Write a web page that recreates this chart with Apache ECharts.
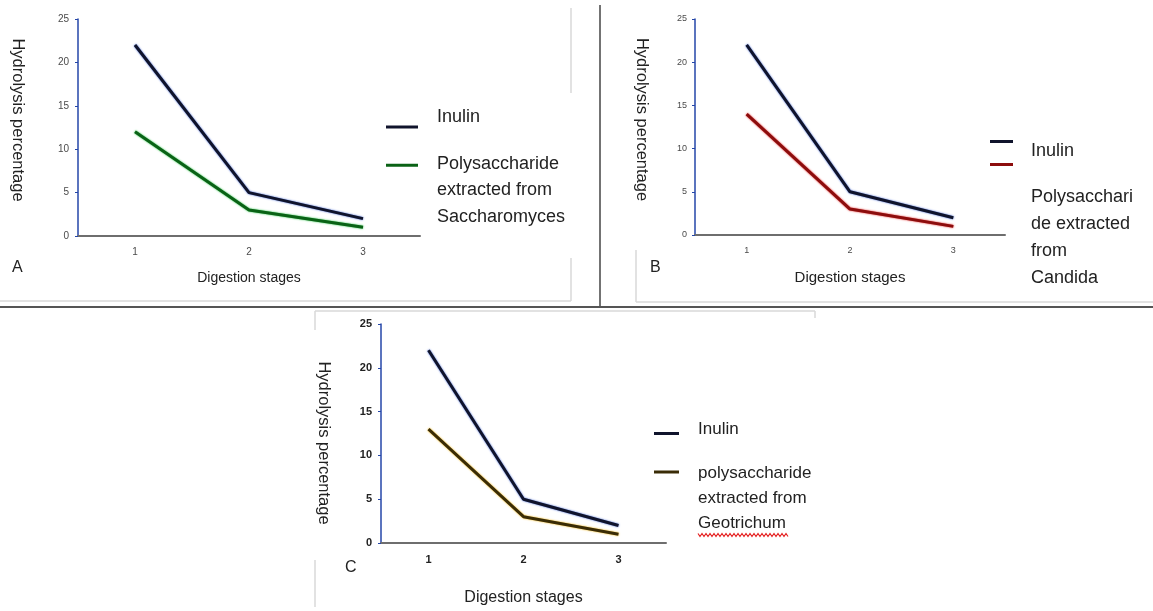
<!DOCTYPE html>
<html>
<head>
<meta charset="utf-8">
<script src="https://cdn.jsdelivr.net/npm/echarts@6/dist/echarts.min.js"></script>
<style>
  html, body { margin: 0; padding: 0; background: #fff; }
  #chart { width: 1153px; height: 611px; }
</style>
</head>
<body>
<div id="chart"></div>
<script>
// digestion stages and hydrolysis percentages
const stages = ['1', '2', '3']
const yTicks = [0, 5, 10, 15, 20, 25]
const inulin = [22, 5, 2]
const polySaccharomyces = [12, 3, 1]
const polyCandida = [14, 3, 1]
const polyGeotrichum = [13, 3, 1]

const nameA = 'Polysaccharide\nextracted from\nSaccharomyces'
const nameB = 'Polysacchari\nde extracted\nfrom\nCandida'
const nameC = 'polysaccharide\nextracted from\nGeotrichum'

const FONT = '"Liberation Sans", Arial, sans-serif'
const inulinColor = '#10142c'

let panels = [
  { grid: { left: 78, top: 19, width: 342, height: 217 }, tick: { size: 10, bold: false, color: '#4a4a4a', margin: 9 },
    xName: 14, xGap: 35, yGap: 52, yPad: [0, 15, 0, 0] },
  { grid: { left: 695, top: 19, width: 310, height: 216 }, tick: { size: 9, bold: false, color: '#4a4a4a', margin: 8 },
    xName: 15, xGap: 35, yGap: 45, yPad: [0, 15, 0, 0] },
  { grid: { left: 381, top: 324, width: 285, height: 219 }, tick: { size: 11, bold: true, color: '#222', margin: 9 },
    xName: 16, xGap: 47, yGap: 49, yPad: [0, 0, 0, 19] }
]

let grids = panels.map(p => p.grid)

let xAxes = panels.map((p, i) => ({
  type: 'category',
  gridIndex: i,
  data: stages,
  boundaryGap: true,
  name: 'Digestion stages',
  nameLocation: 'middle',
  nameGap: p.xGap,
  nameTextStyle: { fontFamily: FONT, fontSize: p.xName, color: '#222' },
  axisLine: { lineStyle: { color: '#6e6e6e', width: 2 } },
  axisTick: { show: false },
  axisLabel: { margin: 11, fontFamily: FONT, fontSize: p.tick.size,
    fontWeight: p.tick.bold ? 'bold' : 'normal', color: p.tick.color },
  splitLine: { show: false }
}))

let yAxes = panels.map((p, i) => ({
  type: 'value',
  gridIndex: i,
  min: yTicks[0],
  max: yTicks[yTicks.length - 1],
  interval: 5,
  name: 'Hydrolysis percentage',
  nameLocation: 'middle',
  nameRotate: -90,
  nameGap: p.yGap,
  nameTextStyle: { fontFamily: FONT, fontSize: 16.5, color: '#222', padding: p.yPad },
  axisLine: { show: true, lineStyle: { color: '#2446a8', width: 1.5 } },
  axisTick: { show: true, length: 3, lineStyle: { color: '#2446a8' } },
  axisLabel: { margin: p.tick.margin, fontFamily: FONT, fontSize: p.tick.size,
    fontWeight: p.tick.bold ? 'bold' : 'normal', color: p.tick.color },
  splitLine: { show: false }
}))

function lineSeries (name, data, idx, color, glow) {
  return {
    name: name,
    type: 'line',
    xAxisIndex: idx,
    yAxisIndex: idx,
    data: data,
    symbol: 'none',
    color: color,
    lineStyle: { width: 3, color: color, shadowColor: glow, shadowBlur: 2 },
    emphasis: { disabled: true }
  }
}

let series = [
  lineSeries('Inulin', inulin, 0, inulinColor, '#3a5fd0'),
  lineSeries(nameA, polySaccharomyces, 0, '#0a6216', '#22c040'),
  lineSeries('Inulin', inulin, 1, inulinColor, '#3a5fd0'),
  lineSeries(nameB, polyCandida, 1, '#8c0d0d', '#e02020'),
  lineSeries('Inulin', inulin, 2, inulinColor, '#3a5fd0'),
  lineSeries(nameC, polyGeotrichum, 2, '#3a2c06', '#f0b000')
]

// one legend per entry so each can sit where the original put it;
// a spacer line above (shift > 0) or below (shift < 0) moves the text off the icon
function legendItem (name, left, top, w, fontSize, lineHeight, shift, gap) {
  let body = name.split('\n').map(s => '{t|' + s + '}').join('\n')
  let text = body
  if (shift > 0) text = '{s| }\n' + body
  if (shift < 0) text = body + '\n{s| }'
  return {
    data: [name],
    left: left,
    top: top,
    padding: 0,
    icon: 'rect',
    itemWidth: w,
    itemHeight: 3,
    selectedMode: false,
    formatter: () => text,
    textStyle: {
      padding: [0, 0, 0, gap],
      rich: {
        t: { fontFamily: FONT, fontSize: fontSize, lineHeight: lineHeight, color: '#222' },
        s: { fontSize: 1, lineHeight: Math.abs(shift) * 2 }
      }
    }
  }
}

let legends = [
  legendItem('Inulin', 386, 108, 32, 18, 26, -10, 14),
  legendItem(nameA, 386, 125, 32, 18, 26.5, 25, 14),
  legendItem('Inulin', 990, 128, 23, 18, 26, 10, 13),
  legendItem(nameB, 990, 110, 23, 18, 27, 73.5, 13),
  legendItem('Inulin', 654, 421, 25, 17, 25, -4, 14),
  legendItem(nameC, 654, 434, 25, 17, 25, 26, 14)
]

const faint = { stroke: '#d9d9d9', lineWidth: 1.5 }
let squiggle = []
for (let x = 698; x <= 788; x += 2) squiggle.push([x, (x / 2) % 2 === 0 ? 536.5 : 533.5])

let graphics = [
  // frames left over from the document the panels were cut from
  { type: 'line', shape: { x1: 571, y1: 8, x2: 571, y2: 93 }, style: faint },
  { type: 'line', shape: { x1: 571, y1: 258, x2: 571, y2: 301 }, style: faint },
  { type: 'line', shape: { x1: 0, y1: 301, x2: 571, y2: 301 }, style: faint },
  { type: 'line', shape: { x1: 636, y1: 250, x2: 636, y2: 302 }, style: faint },
  { type: 'line', shape: { x1: 636, y1: 302, x2: 1153, y2: 302 }, style: faint },
  { type: 'line', shape: { x1: 315, y1: 311, x2: 815, y2: 311 }, style: faint },
  { type: 'line', shape: { x1: 315, y1: 311, x2: 315, y2: 330 }, style: faint },
  { type: 'line', shape: { x1: 315, y1: 560, x2: 315, y2: 607 }, style: faint },
  { type: 'line', shape: { x1: 815, y1: 311, x2: 815, y2: 318 }, style: faint },
  // panel separators
  { type: 'line', shape: { x1: 600, y1: 5, x2: 600, y2: 307 }, style: { stroke: '#444', lineWidth: 1.5 } },
  { type: 'line', shape: { x1: 0, y1: 307, x2: 1153, y2: 307 }, style: { stroke: '#555', lineWidth: 2 } },
  // panel letters
  { type: 'text', left: 12, top: 260, style: { text: 'A', fontFamily: FONT, fontSize: 16, fill: '#222' } },
  { type: 'text', left: 650, top: 260, style: { text: 'B', fontFamily: FONT, fontSize: 16, fill: '#222' } },
  { type: 'text', left: 345, top: 560, style: { text: 'C', fontFamily: FONT, fontSize: 16, fill: '#222' } },
  // spell-check squiggle under Geotrichum
  { type: 'polyline', shape: { points: squiggle },
    style: { stroke: '#e52222', lineWidth: 1.2, fill: null } }
]

let chart = echarts.init(document.getElementById('chart'))
chart.setOption({
  backgroundColor: '#fff',
  animation: false,
  grid: grids,
  xAxis: xAxes,
  yAxis: yAxes,
  legend: legends,
  series: series,
  graphic: graphics
})
</script>
</body>
</html>
